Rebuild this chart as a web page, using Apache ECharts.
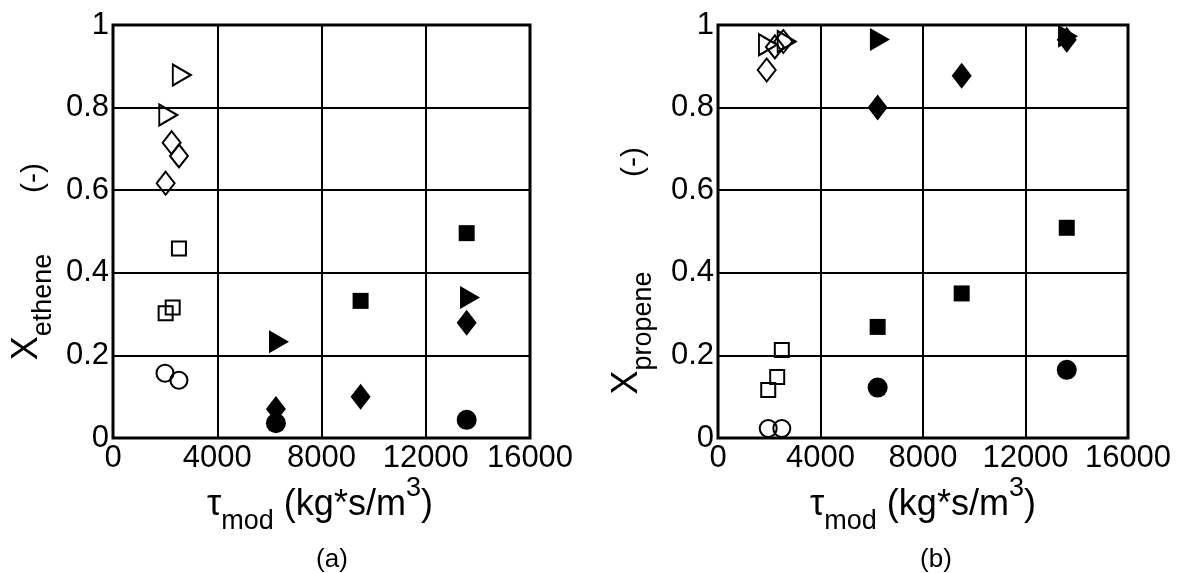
<!DOCTYPE html>
<html>
<head>
<meta charset="utf-8">
<script src="https://cdn.jsdelivr.net/npm/echarts@6/dist/echarts.min.js"></script>
<style>
html,body{margin:0;padding:0;background:#fff;}
#chart{width:1177px;height:573px;}
</style>
</head>
<body>
<div id="chart"></div>
<script>
// ---------- data ----------
const xTicks = [0, 4000, 8000, 12000, 16000];
const yTicks = [0, 0.2, 0.4, 0.6, 0.8, 1];

// (a) ethene conversion  [tau_mod, X]
const ethOpenTriangle = [[2640, 0.879], [2120, 0.782]];
const ethOpenDiamond  = [[2250, 0.715], [2530, 0.683], [2020, 0.617]];
const ethOpenSquare   = [[2530, 0.459], [2290, 0.316], [2020, 0.302]];
const ethOpenCircle   = [[1995, 0.157], [2530, 0.140]];
const ethFillSquare   = [[13570, 0.496], [9500, 0.332]];
const ethFillTriangle = [[13700, 0.340], [6370, 0.233]];
const ethFillDiamond  = [[13570, 0.279], [9500, 0.100], [6250, 0.070]];
const ethFillCircle   = [[6250, 0.036], [13570, 0.044]];

// (b) propene conversion
const proOpenTriangle = [[1950, 0.952], [2680, 0.960]];
const proOpenDiamond  = [[2220, 0.947], [2550, 0.960], [1900, 0.891]];
const proOpenSquare   = [[2490, 0.213], [2310, 0.148], [1960, 0.116]];
const proOpenCircle   = [[1960, 0.023], [2490, 0.023]];
const proFillTriangle = [[6320, 0.965], [13660, 0.973]];
const proFillDiamond  = [[6230, 0.800], [9510, 0.877], [13610, 0.964]];
const proFillSquare   = [[13610, 0.509], [9510, 0.350], [6230, 0.269]];
const proFillCircle   = [[6230, 0.122], [13610, 0.165]];

// ---------- styling ----------
const FONT = "'Liberation Sans', Arial, Helvetica, sans-serif";
const MAIN = 36, SUB = 27;

function mk(data, idx, type, filled) {
  const cfg = {
    circle:   {symbol: 'circle',   size: filled ? 20 : 17, rot: 0},
    square:   {symbol: 'rect',     size: filled ? 16 : 14, rot: 0},
    diamond:  {symbol: 'diamond',  size: filled ? [20, 26] : [18, 23], rot: 0},
    triangle: {symbol: 'triangle', size: filled ? [23, 20] : [21, 18], rot: -90}
  }[type];
  return {
    type: 'scatter',
    xAxisIndex: idx, yAxisIndex: idx,
    data: data,
    symbol: cfg.symbol,
    symbolSize: cfg.size,
    symbolRotate: cfg.rot,
    clip: false,
    silent: true,
    itemStyle: filled
      ? {color: '#000', borderWidth: 0, opacity: 1}
      : {color: 'rgba(0,0,0,0)', borderColor: '#000', borderWidth: 2, opacity: 1}
  };
}

function xAx(idx) {
  return {
    gridIndex: idx, type: 'value', min: xTicks[0], max: xTicks[xTicks.length - 1], interval: 4000,
    axisLine: {show: false}, axisTick: {show: false},
    axisLabel: {fontSize: 31, color: '#000', fontFamily: FONT, margin: 5, formatter: v => String(v)},
    splitLine: {show: true, lineStyle: {color: '#000', width: 2}}
  };
}
function yAx(idx) {
  return {
    gridIndex: idx, type: 'value', min: yTicks[0], max: yTicks[yTicks.length - 1], interval: 0.2,
    axisLine: {show: false}, axisTick: {show: false},
    axisLabel: {fontSize: 31, color: '#000', fontFamily: FONT, margin: 4},
    splitLine: {show: true, lineStyle: {color: '#000', width: 2}}
  };
}

const rich = {
  m:  {fontSize: MAIN, fontFamily: FONT, color: '#000', lineHeight: 60, verticalAlign: 'middle'},
  s:  {fontSize: SUB,  fontFamily: FONT, color: '#000', lineHeight: 15, verticalAlign: 'bottom'},
  p:  {fontSize: SUB,  fontFamily: FONT, color: '#000', lineHeight: 41, verticalAlign: 'top'}
};

function txt(x, y, text, rot, size) {
  return {
    type: 'text', x: x, y: y, rotation: rot || 0, silent: true,
    style: {text: text, rich: rich, fontSize: size || MAIN, fontFamily: FONT, fill: '#000',
            align: 'center', verticalAlign: 'middle'}
  };
}
function plain(x, y, text, size, rot) {
  return {
    type: 'text', x: x, y: y, rotation: rot || 0, silent: true,
    style: {text: text, fontSize: size, fontFamily: FONT, fill: '#000', align: 'center', verticalAlign: 'middle'}
  };
}

const chart = echarts.init(document.getElementById('chart'), null, {renderer: 'canvas'});
chart.setOption({
  backgroundColor: '#fff',
  animation: false,
  grid: [
    {left: 113, top: 25, width: 417, height: 413, show: true, borderColor: '#000', borderWidth: 3, backgroundColor: 'transparent'},
    {left: 718, top: 25, width: 410, height: 413, show: true, borderColor: '#000', borderWidth: 3, backgroundColor: 'transparent'}
  ],
  xAxis: [xAx(0), xAx(1)],
  yAxis: [yAx(0), yAx(1)],
  series: [
    mk(ethOpenTriangle, 0, 'triangle', false),
    mk(ethOpenDiamond, 0, 'diamond', false),
    mk(ethOpenSquare, 0, 'square', false),
    mk(ethOpenCircle, 0, 'circle', false),
    mk(ethFillSquare, 0, 'square', true),
    mk(ethFillTriangle, 0, 'triangle', true),
    mk(ethFillDiamond, 0, 'diamond', true),
    mk(ethFillCircle, 0, 'circle', true),
    mk(proOpenTriangle, 1, 'triangle', false),
    mk(proOpenDiamond, 1, 'diamond', false),
    mk(proOpenSquare, 1, 'square', false),
    mk(proOpenCircle, 1, 'circle', false),
    mk(proFillTriangle, 1, 'triangle', true),
    mk(proFillDiamond, 1, 'diamond', true),
    mk(proFillSquare, 1, 'square', true),
    mk(proFillCircle, 1, 'circle', true)
  ],
  graphic: [
    txt(320, 505, '{m|τ}{s|mod}{m| (kg*s/m}{p|3}{m|)}'),
    txt(923, 505, '{m|τ}{s|mod}{m| (kg*s/m}{p|3}{m|)}'),
    txt(27, 307, '{m|X}{s|ethene}', Math.PI / 2),
    plain(34, 178, '(-)', 30, Math.PI / 2),
    txt(627, 333, '{m|X}{s|propene}', Math.PI / 2),
    plain(634, 162, '(-)', 30, Math.PI / 2),
    plain(332, 560, '(a)', 26),
    plain(936, 560, '(b)', 26)
  ]
});
</script>
</body>
</html>
